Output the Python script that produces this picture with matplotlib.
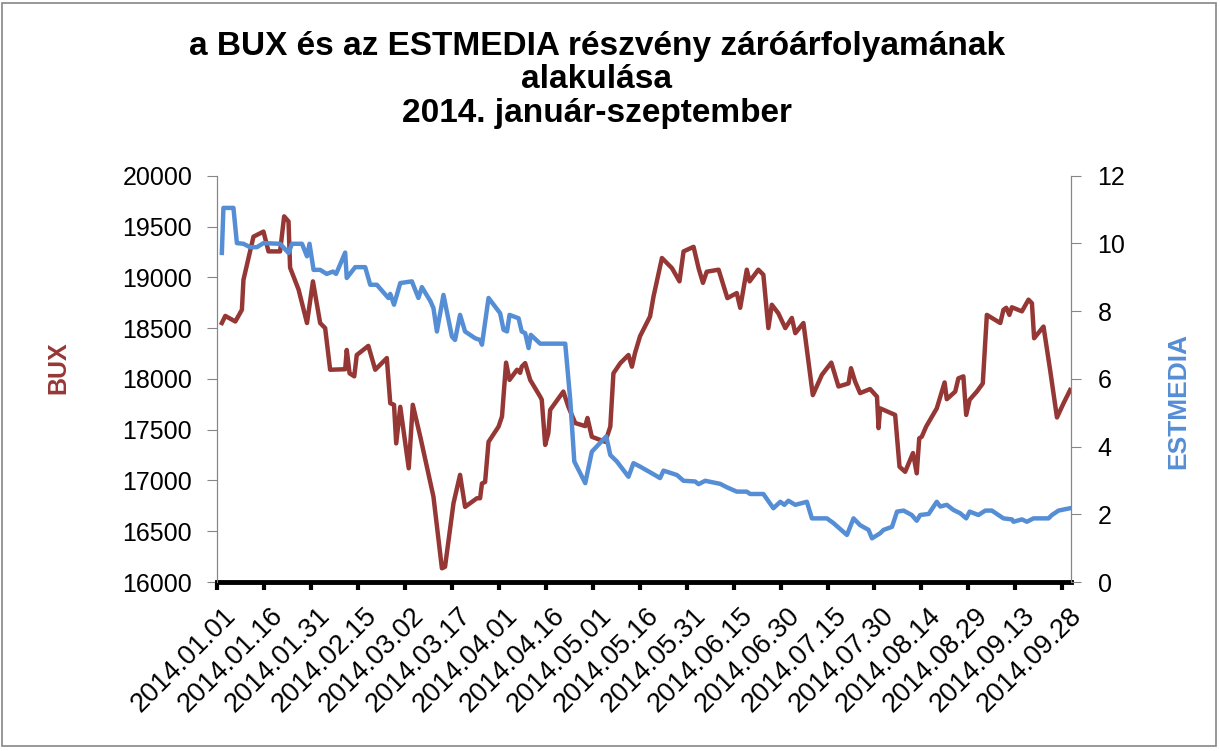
import numpy as np
import pandas as pd
import matplotlib
matplotlib.use("Agg")
import matplotlib.pyplot as plt
import matplotlib.dates as mdates
from matplotlib.patches import Rectangle
from matplotlib.transforms import ScaledTranslation

plt.rcParams['font.family'] = ['Liberation Sans', 'DejaVu Sans']

# data: days since 2014-01-01 and closing values
bux_days = [1.5, 2.6, 5.8, 7.9, 8.4, 11.6, 14.8, 16.4, 20.1, 21.4, 22.8, 23.3, 26.0, 28.7,
            30.6, 32.9, 34.5, 36.1, 40.9, 41.4, 42.3, 43.8, 44.6, 48.3, 50.5, 54.2, 55.3,
            56.5, 57.2, 58.5, 61.2, 62.5, 64.9, 69.1, 71.8, 72.8, 75.5, 77.6, 79.2, 83.0,
            84.0, 84.6, 85.6, 86.7, 89.9, 91.0, 92.3, 93.4, 95.8, 96.8, 97.3, 98.4, 100.0,
            103.2, 103.7, 104.8, 105.8, 106.4, 110.6, 112.2, 114.4, 117.6, 118.3, 119.7,
            124.0, 125.6, 126.6, 128.8, 131.4, 132.5, 133.5, 135.1, 138.3, 139.4, 142.1,
            145.3, 147.7, 149.0, 152.2, 153.8, 155.2, 156.4, 160.2, 163.0, 166.0, 167.1,
            169.2, 170.1, 172.9, 174.5, 176.1, 177.2, 179.3, 181.5, 183.6, 184.7, 187.3,
            190.3, 193.2, 196.2, 198.5, 201.7, 202.5, 203.8, 205.4, 208.6, 210.8, 211.3,
            211.8, 216.6, 218.0, 219.8, 222.3, 223.5, 224.3, 225.1, 226.5, 229.9, 232.4,
            233.1, 235.8, 236.8, 238.4, 239.3, 240.4, 242.7, 244.6, 245.9, 250.2, 251.2,
            252.1, 253.1, 253.9, 257.1, 259.2, 260.3, 261.0, 264.0, 266.1, 268.3, 270.4, 272.5]
bux = [18550, 18620, 18565, 18680, 18975, 19400, 19450, 19255, 19255, 19600, 19550, 19095,
       18880, 18550, 18960, 18550, 18500, 18090, 18095, 18285, 18055, 18025, 18235, 18325,
       18090, 18205, 17760, 17745, 17365, 17725, 17120, 17745, 17430, 16840, 16135, 16150,
       16775, 17055, 16740, 16825, 16825, 16970, 16985, 17380, 17530, 17630, 18160, 17990,
       18090, 18060, 18120, 18155, 17990, 17825, 17795, 17350, 17465, 17695, 17875, 17725,
       17565, 17535, 17615, 17430, 17380, 17530, 18055, 18155, 18235, 18120, 18255, 18420,
       18615, 18810, 19190, 19090, 18960, 19255, 19300, 19090, 18945, 19055, 19075, 18795,
       18845, 18700, 19075, 18960, 19075, 19025, 18500, 18730, 18645, 18500, 18600, 18450,
       18550, 17840, 18040, 18160, 17925, 17955, 18105, 17975, 17860, 17900, 17825, 17515,
       17710, 17645, 17135, 17085, 17270, 17070, 17415, 17430, 17530, 17710, 17965, 17800,
       17875, 18005, 18025, 17645, 17795, 17875, 17955, 18630, 18550, 18680, 18700, 18630,
       18705, 18665, 18780, 18745, 18400, 18515, 18090, 17620, 17760, 17890]

est_days = [1.5, 2.0, 5.2, 6.3, 8.4, 10.5, 12.7, 14.8, 20.1, 22.8, 23.9, 27.1, 28.7, 29.5,
            30.8, 32.9, 35.0, 37.0, 38.0, 40.9, 41.4, 44.1, 47.3, 48.9, 51.0, 54.7, 55.3,
            56.5, 58.5, 62.2, 64.3, 65.4, 68.1, 69.1, 70.2, 72.3, 75.0, 76.0, 77.6, 79.2,
            82.4, 84.0, 84.6, 86.7, 90.4, 91.5, 92.6, 93.4, 96.3, 97.3, 98.4, 99.5, 100.2,
            103.2, 111.2, 112.8, 114.1, 117.6, 119.7, 124.3, 125.6, 127.7, 131.4, 133.0,
            135.1, 138.9, 141.5, 142.6, 146.9, 149.0, 152.7, 153.8, 155.9, 160.7, 162.8,
            166.0, 169.2, 170.3, 174.5, 177.7, 179.9, 181.2, 182.5, 184.7, 188.4, 190.0,
            194.8, 196.9, 201.2, 203.3, 205.4, 208.1, 209.2, 211.8, 212.9, 215.6, 217.2,
            219.3, 221.9, 223.5, 224.6, 227.3, 229.9, 231.0, 233.1, 235.2, 237.4, 239.3,
            240.4, 243.2, 245.4, 247.5, 251.2, 253.9, 254.4, 257.1, 258.7, 260.8, 265.6,
            266.7, 268.8, 272.5]
estmedia = [9.72, 11.05, 11.05, 10.01, 9.99, 9.89, 9.89, 10.01, 9.99, 9.72, 9.99, 9.99, 9.62,
            9.99, 9.22, 9.22, 9.10, 9.17, 9.10, 9.73, 8.98, 9.30, 9.30, 8.78, 8.78, 8.39,
            8.51, 8.19, 8.83, 8.88, 8.39, 8.71, 8.30, 8.09, 7.40, 8.48, 7.25, 7.15, 7.89,
            7.40, 7.20, 7.15, 7.01, 8.39, 7.94, 7.45, 7.40, 7.89, 7.79, 7.40, 7.35, 6.91,
            7.30, 7.04, 7.04, 5.38, 3.56, 2.92, 3.85, 4.30, 3.75, 3.56, 3.11, 3.51, 3.41,
            3.21, 3.07, 3.29, 3.16, 2.99, 2.97, 2.89, 2.99, 2.90, 2.80, 2.67, 2.67, 2.60,
            2.60, 2.18, 2.37, 2.28, 2.40, 2.28, 2.37, 1.88, 1.88, 1.74, 1.39, 1.88, 1.68,
            1.54, 1.29, 1.44, 1.54, 1.63, 2.08, 2.11, 1.98, 1.81, 1.98, 2.01, 2.37, 2.23,
            2.28, 2.13, 2.03, 1.88, 2.08, 1.98, 2.11, 2.11, 1.88, 1.85, 1.78, 1.85, 1.78,
            1.88, 1.88, 1.98, 2.11, 2.18]

start = pd.Timestamp("2014-01-01")
bux_dates = start + pd.to_timedelta(bux_days, unit="D")
est_dates = start + pd.to_timedelta(est_days, unit="D")
tick_dates = pd.date_range("2014-01-01", "2014-09-28", freq="15D")

red = "#953735"
blue = "#558ED5"
gray = "#868686"

fig = plt.figure(figsize=(12.2, 7.51), dpi=100)
ax = fig.add_axes([0.178, 0.225, 0.70, 0.541])
ax2 = ax.twinx()

ax.plot(bux_dates, bux, color=red, lw=3.2, solid_joinstyle="round")
ax2.plot(est_dates, estmedia, color=blue, lw=3.2, solid_joinstyle="round")

ax.set_ylim(16000, 20000)
ax.set_yticks(np.arange(16000, 20001, 500))
ax2.set_ylim(0, 12)
ax2.set_yticks(np.arange(0, 13, 2))
ax.set_xlim(start, pd.Timestamp("2014-09-30 20:00"))
ax.set_xticks(tick_dates)
ax.xaxis.set_major_formatter(mdates.DateFormatter("%Y.%m.%d"))

for a in (ax, ax2):
    a.spines["top"].set_visible(False)
    a.spines["left"].set_color(gray)
    a.spines["right"].set_color(gray)
    a.spines["bottom"].set_color("black")
    a.spines["bottom"].set_linewidth(3.5)
ax2.spines["bottom"].set_visible(False)

ax.tick_params(axis="y", direction="out", length=7, color=gray, labelsize=18, pad=11)
ax2.tick_params(axis="y", direction="out", length=7, color=gray, labelsize=18, pad=12)
ax.tick_params(axis="x", direction="out", length=6, width=3, color="black", labelsize=19.5, pad=9)
shift = ScaledTranslation(6 / 100, 0, fig.dpi_scale_trans)
for lab in ax.get_xticklabels():
    lab.set_rotation(45)
    lab.set_ha("right")
    lab.set_va("top")
    lab.set_rotation_mode("anchor")
    lab.set_transform(lab.get_transform() + shift)

fig.text(0.0475, 0.51, "BUX", color=red, fontsize=18, fontweight="bold",
         rotation=90, ha="center", va="center")
fig.text(0.966, 0.466, "ESTMEDIA", color=blue, fontsize=19, fontweight="bold",
         rotation=90, ha="center", va="center")

fig.text(0.489, 0.894, "a BUX és az ESTMEDIA részvény záróárfolyamának\nalakulása\n2014. január-szeptember",
         ha="center", va="center", fontsize=24, fontweight="bold", linespacing=1.1)

fig.patches.append(Rectangle((0.002, 0.006), 0.995, 0.99, transform=fig.transFigure,
                             fill=False, edgecolor=gray, lw=1.2))

fig.savefig("out.png", dpi=100)
